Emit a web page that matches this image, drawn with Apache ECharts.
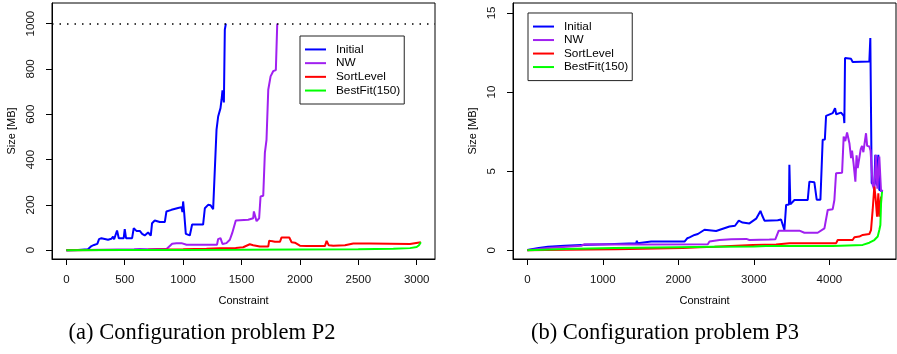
<!DOCTYPE html>
<html><head><meta charset="utf-8">
<script src="https://cdn.jsdelivr.net/npm/echarts@6/dist/echarts.min.js"></script>
<style>html,body{margin:0;padding:0;background:#fff}#c{width:897px;height:354px}</style>
</head><body><div id="c"></div>
<script>
const seriesNames = ['Initial', 'NW', 'SortLevel', 'BestFit(150)'];
const seriesColors = ['#0000FF', '#A020F0', '#FF0000', '#00FF00'];

// Panel (a): configuration problem P2
const p2Initial = [[0,0],[100,1],[185,4],[215,18],[237,23],[265,28],[280,49],[300,53],[357,46],[385,50],[400,60],[409,48],[425,56],[434,87],[449,53],[491,53],[500,93],[511,53],[563,53],[577,97],[600,85],[629,85],[649,72],[671,65],[700,78],[723,64],[734,119],[757,131],[800,124],[843,124],[857,171],[900,178],[957,186],[986,190],[994,168],[1000,215],[1009,165],[1023,72],[1057,65],[1077,113],[1171,113],[1186,185],[1195,178],[1214,200],[1235,198],[1250,190],[1257,181],[1271,180],[1286,532],[1300,590],[1320,627],[1329,664],[1337,705],[1343,708],[1349,652],[1357,973],[1366,1000]];
const p2NW = [[0,0],[300,2],[580,4],[595,11],[629,5],[700,4],[860,6],[871,9],[906,28],[943,30],[986,31],[1029,24],[1290,24],[1300,49],[1320,53],[1337,27],[1371,31],[1400,46],[1420,75],[1437,72],[1451,131],[1557,134],[1600,141],[1606,171],[1629,128],[1651,141],[1663,237],[1686,240],[1700,429],[1714,487],[1729,708],[1749,767],[1757,767],[1771,790],[1794,795],[1806,1000]];
const p2SortLevel = [[0,0],[300,1],[700,2],[1000,4],[1200,6],[1314,9],[1450,10],[1514,13],[1571,26],[1600,22],[1657,16],[1729,16],[1737,42],[1755,40],[1771,44],[1786,37],[1829,37],[1843,56],[1909,56],[1929,35],[1957,33],[2000,20],[2057,18],[2214,18],[2229,41],[2246,22],[2286,19],[2386,22],[2457,29],[2600,29],[2943,27],[2957,35],[3036,35]];
const p2BestFit = [[0,0],[500,0.5],[1000,1],[1500,1.5],[2000,3],[2500,4],[2800,6],[2943,9],[3000,14],[3020,22],[3036,35]];
const p2XTicks = [0, 500, 1000, 1500, 2000, 2500, 3000];
const p2YTicks = [0, 200, 400, 600, 800, 1000];
const p2Limit = 1000;

// Panel (b): configuration problem P3
const p3Initial = [[0,0.02],[150,0.15],[273,0.23],[494,0.29],[714,0.34],[1155,0.4],[1442,0.44],[1450,0.6],[1460,0.44],[1640,0.55],[2081,0.55],[2117,0.76],[2148,0.82],[2214,0.97],[2258,1.03],[2346,1.3],[2500,1.22],[2677,1.5],[2750,1.55],[2800,1.87],[2850,1.75],[2941,1.7],[3030,2.0],[3087,2.49],[3110,2.2],[3140,1.87],[3316,1.9],[3360,1.95],[3404,1.28],[3427,2.87],[3465,2.9],[3470,5.4],[3483,2.9],[3537,3.18],[3713,3.18],[3735,4.34],[3801,4.3],[3832,3.2],[3881,3.2],[3911,6.98],[3940,7.0],[3956,8.5],[4044,8.67],[4075,8.99],[4090,8.6],[4154,8.7],[4190,8.5],[4198,8.04],[4207,12.15],[4287,12.1],[4308,11.9],[4529,11.94],[4542,13.42],[4560,4.24],[4595,4.2],[4608,6.03],[4625,4.1],[4648,6.03],[4661,3.82],[4705,3.7]];
const p3NW = [[0,0],[273,0.15],[714,0.29],[758,0.38],[1500,0.36],[2390,0.38],[2412,0.55],[2545,0.65],[2700,0.7],[2900,0.72],[2941,0.65],[3206,0.68],[3285,0.7],[3329,1.24],[3603,1.24],[3669,1.11],[3845,1.11],[3934,1.39],[3978,2.55],[4044,2.6],[4066,3.18],[4088,4.87],[4168,4.9],[4189,7.19],[4210,6.9],[4234,7.44],[4265,6.77],[4287,5.82],[4300,6.3],[4320,5.5],[4344,4.34],[4360,6.0],[4375,5.2],[4397,5.29],[4415,6.4],[4432,6.6],[4450,6.2],[4470,6.9],[4485,7.4],[4500,6.6],[4529,6.56],[4545,6.3],[4573,4.13],[4595,3.8],[4617,6.03],[4635,3.9],[4661,5.93],[4684,3.71],[4705,3.82]];
const p3SortLevel = [[0,0],[500,0.04],[1177,0.06],[2059,0.15],[2280,0.2],[2478,0.22],[2985,0.34],[3294,0.37],[3470,0.44],[3867,0.44],[4090,0.45],[4110,0.65],[4308,0.65],[4331,0.82],[4397,0.87],[4441,0.97],[4529,1.03],[4551,1.28],[4573,2.55],[4595,4.03],[4610,3.4],[4631,2.13],[4648,3.6],[4661,2.13],[4684,3.39]];
const p3BestFit = [[0,0],[500,0.08],[1155,0.15],[2000,0.2],[2478,0.23],[3000,0.24],[3162,0.27],[4044,0.27],[4441,0.34],[4529,0.48],[4595,0.65],[4640,0.87],[4661,1.28],[4675,1.6],[4684,2.97],[4697,3.7]];
const p3XTicks = [0, 1000, 2000, 3000, 4000];
const p3YTicks = [0, 5, 10, 15];

const captions = ['(a) Configuration problem P2', '(b) Configuration problem P3'];
const xTitle = 'Constraint';
const yTitle = 'Size [MB]';

const FONT = 'Liberation Sans, Arial, sans-serif';
const panels = [
  { data: [p2Initial, p2NW, p2SortLevel, p2BestFit], xr: [-123, 3157], yr: [-39, 1091], xt: p2XTicks, yt: p2YTicks, left: 52 },
  { data: [p3Initial, p3NW, p3SortLevel, p3BestFit], xr: [-190, 4882], yr: [-0.55, 15.63], xt: p3XTicks, yt: p3YTicks, left: 513 }
];
const plain = v => String(v);

const grids = [], xAxes = [], yAxes = [], series = [];
panels.forEach((p, k) => {
  grids.push({ left: p.left, top: 3, width: 383, height: 256, show: true, borderColor: '#000', borderWidth: 1, backgroundColor: 'transparent' });
  xAxes.push({
    type: 'value', gridIndex: k, min: p.xr[0], max: p.xr[1], position: 'bottom',
    name: xTitle, nameLocation: 'middle', nameGap: 36,
    nameTextStyle: { fontFamily: FONT, fontSize: 11, color: '#000' },
    axisLine: { show: true, onZero: false, lineStyle: { color: '#000', width: 1 } },
    splitLine: { show: false },
    axisTick: { show: true, length: 6, lineStyle: { color: '#000' }, customValues: p.xt },
    axisLabel: { show: true, margin: 15, fontFamily: FONT, fontSize: 11.5, color: '#111', customValues: p.xt, formatter: plain }
  });
  yAxes.push({
    type: 'value', gridIndex: k, min: p.yr[0], max: p.yr[1], position: 'left',
    name: yTitle, nameLocation: 'middle', nameGap: 35,
    nameTextStyle: { fontFamily: FONT, fontSize: 11, color: '#000' },
    axisLine: { show: true, onZero: false, lineStyle: { color: '#000', width: 1 } },
    splitLine: { show: false },
    axisTick: { show: true, length: 6, lineStyle: { color: '#000' }, customValues: p.yt },
    axisLabel: { show: true, rotate: 90, margin: 15, fontFamily: FONT, fontSize: 11.5, color: '#111', customValues: p.yt, formatter: plain }
  });
  p.data.forEach((d, i) => {
    const s = {
      type: 'line', name: seriesNames[i], xAxisIndex: k, yAxisIndex: k, data: d,
      showSymbol: false, symbol: 'none', animation: false, silent: true,
      lineStyle: { width: 2, color: seriesColors[i] }, itemStyle: { color: seriesColors[i] }, z: 2 + i
    };
    if (k === 0 && i === 0) {
      s.markLine = { silent: true, symbol: 'none', label: { show: false }, animation: false,
        lineStyle: { color: '#000', type: [1.5, 6], width: 1.5 }, data: [{ yAxis: p2Limit }] };
    }
    series.push(s);
  });
});

const legendIcon = 'path://M0,0H21V2H0Z';
const mkLegend = (left, top, lh, pad) => ({
  data: seriesNames.map(n => ({ name: n, icon: legendIcon })),
  orient: 'vertical', left: left, top: top, itemWidth: 31, itemHeight: 2, itemGap: 0,
  padding: [pad, 4, pad, 5], borderColor: '#222', borderWidth: 1, selectedMode: false,
  textStyle: { fontFamily: FONT, fontSize: 11.8, lineHeight: lh, color: '#000' }
});

const chart = echarts.init(document.getElementById('c'), null, { renderer: 'canvas' });
chart.setOption({
  backgroundColor: '#fff',
  animation: false,
  title: [
    { text: captions[0], left: 197, top: 317, textAlign: 'center', textStyle: { fontFamily: 'Liberation Serif, serif', fontSize: 22.5, fontWeight: 'normal', color: '#000' } },
    { text: captions[1], left: 660, top: 317, textAlign: 'center', textStyle: { fontFamily: 'Liberation Serif, serif', fontSize: 22.5, fontWeight: 'normal', color: '#000' } }
  ],
  legend: [mkLegend(300, 36, 13.7, 6.6), mkLegend(528, 13, 13.5, 6.8)],
  grid: grids, xAxis: xAxes, yAxis: yAxes, series: series
});
</script></body></html>
